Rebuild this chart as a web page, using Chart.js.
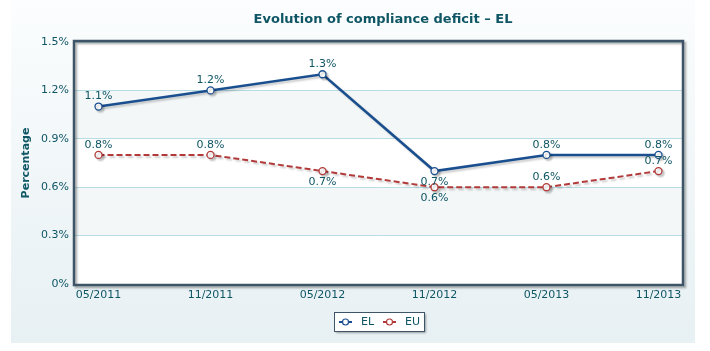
<!DOCTYPE html>
<html>
<head>
<meta charset="utf-8">
<script src="https://cdn.jsdelivr.net/npm/chart.js@4.4.0/dist/chart.umd.min.js"></script>
<style>
  html, body { margin: 0; padding: 0; background: #fff; }
  #wrap { width: 710px; height: 351px; position: relative; }
</style>
</head>
<body>
<div id="wrap"><canvas id="chart" width="710" height="351"></canvas></div>
<script>
// ===== Chart data =====
const TITLE = "Evolution of compliance deficit \u2013 EL";
const categories = ["05/2011", "11/2011", "05/2012", "11/2012", "05/2013", "11/2013"];
const elValues = [1.1, 1.2, 1.3, 0.7, 0.8, 0.8];
const euValues = [0.8, 0.8, 0.7, 0.6, 0.6, 0.7];
const yTicks = [0, 0.3, 0.6, 0.9, 1.2, 1.5];

// label side per point (1 = above, -1 = below)
const elLabelSide = [1, 1, 1, -1, 1, 1];
const euLabelSide = [1, 1, -1, -1, 1, 1];

const TEXT = "#0f5665";
const FONT = "DejaVu Sans";

function fmt(v) {
    return v === 0 ? "0%" : v.toFixed(1) + "%";
}

// background panel, bands and plot frame
const framePlugin = {
    id: 'frame',
    beforeDraw(chart) {
        const ctx = chart.ctx;
        const a = chart.chartArea;
        const g = ctx.createLinearGradient(0, 0, 0, 343);
        g.addColorStop(0, "#fbfdfe");
        g.addColorStop(1, "#e7f0f3");
        ctx.save();
        ctx.fillStyle = g;
        ctx.fillRect(11, 0, 684, 343);
        ctx.fillStyle = "#fff";
        ctx.fillRect(a.left, a.top, a.right - a.left, a.bottom - a.top);
        const y = chart.scales.y;
        ctx.fillStyle = "#f3f7f8";
        for (let i = 0; i < yTicks.length - 1; i++) {
            if (i % 2 === 1) {
                const y1 = y.getPixelForValue(yTicks[i]);
                const y2 = y.getPixelForValue(yTicks[i + 1]);
                ctx.fillRect(a.left, y2, a.right - a.left, y1 - y2);
            }
        }
        ctx.restore();
    },
    beforeDatasetsDraw(chart) {
        const ctx = chart.ctx;
        const a = chart.chartArea;
        ctx.save();
        ctx.shadowColor = "rgba(0,0,0,0.3)";
        ctx.shadowOffsetX = 2;
        ctx.shadowOffsetY = 2;
        ctx.shadowBlur = 2;
        ctx.strokeStyle = "#3d5566";
        ctx.lineWidth = 2.5;
        ctx.strokeRect(a.left - 1, a.top - 1, a.right - a.left + 2, a.bottom - a.top + 2);
        ctx.restore();
    },
    beforeDatasetDraw(chart) {
        const ctx = chart.ctx;
        ctx.save();
        ctx.shadowColor = "rgba(0,0,0,0.2)";
        ctx.shadowOffsetX = 2;
        ctx.shadowOffsetY = 2;
        ctx.shadowBlur = 2;
    },
    afterDatasetDraw(chart) {
        chart.ctx.restore();
    },
    afterDraw(chart) {
        const ctx = chart.ctx;
        ctx.save();
        // title
        ctx.fillStyle = TEXT;
        ctx.font = "bold 13px " + FONT;
        ctx.textAlign = "center";
        ctx.textBaseline = "middle";
        ctx.fillText(TITLE, 383, 20);

        // value labels
        ctx.font = "11px " + FONT;
        chart.data.datasets.forEach((ds, di) => {
            const meta = chart.getDatasetMeta(di);
            const sides = di === 0 ? elLabelSide : euLabelSide;
            meta.data.forEach((pt, i) => {
                const dy = sides[i] > 0 ? -10 : 11;
                ctx.fillText(fmt(ds.data[i].y), pt.x, pt.y + dy);
            });
        });

        // legend
        const lx = 334, ly = 312, lw = 90, lh = 19;
        ctx.shadowColor = "rgba(0,0,0,0.35)";
        ctx.shadowOffsetX = 2;
        ctx.shadowOffsetY = 2;
        ctx.shadowBlur = 2;
        ctx.fillStyle = "#fff";
        ctx.fillRect(lx, ly, lw, lh);
        ctx.shadowColor = "transparent";
        ctx.strokeStyle = "#3d5566";
        ctx.lineWidth = 1;
        ctx.strokeRect(lx + 0.5, ly + 0.5, lw, lh);
        const cy = ly + lh / 2 + 0.5;
        let x = lx + 5;
        chart.data.datasets.forEach(ds => {
            ctx.strokeStyle = ds.borderColor;
            ctx.lineWidth = 2;
            ctx.beginPath();
            ctx.moveTo(x, cy);
            ctx.lineTo(x + 13, cy);
            ctx.stroke();
            ctx.beginPath();
            ctx.arc(x + 6.5, cy, 3, 0, Math.PI * 2);
            ctx.fillStyle = "#fff";
            ctx.fill();
            ctx.lineWidth = 1.2;
            ctx.stroke();
            ctx.fillStyle = TEXT;
            ctx.font = "11px " + FONT;
            ctx.textAlign = "left";
            ctx.fillText(ds.label, x + 22, cy);
            x += 44;
        });
        ctx.restore();
    }
};

function toPoints(values) {
    return values.map((v, i) => ({ x: i, y: v }));
}

const ctx = document.getElementById('chart').getContext('2d');
new Chart(ctx, {
    type: 'line',
    data: {
        datasets: [{
            label: 'EL',
            data: toPoints(elValues),
            borderColor: '#1a4f8f',
            borderWidth: 2.5,
            pointBackgroundColor: '#fff',
            pointBorderColor: '#1a4f8f',
            pointBorderWidth: 1.3,
            pointRadius: 3.5,
            tension: 0
        }, {
            label: 'EU',
            data: toPoints(euValues),
            borderColor: '#b23a3a',
            borderWidth: 2,
            borderDash: [6, 3],
            pointBackgroundColor: '#fff',
            pointBorderColor: '#b23a3a',
            pointBorderWidth: 1.3,
            pointRadius: 3.5,
            tension: 0
        }]
    },
    options: {
        responsive: false,
        animation: false,
        layout: { padding: { left: 0, right: 28, top: 42, bottom: 47 } },
        plugins: {
            legend: { display: false },
            title: { display: false },
            tooltip: { enabled: false }
        },
        scales: {
            x: {
                type: 'linear',
                min: -0.21,
                max: 5.21,
                afterBuildTicks: axis => { axis.ticks = categories.map((c, i) => ({ value: i })); },
                afterFit: axis => { axis.height = 20; },
                grid: { display: false, drawTicks: false },
                border: { display: false },
                ticks: {
                    color: TEXT,
                    font: { family: FONT, size: 11 },
                    padding: 5,
                    maxRotation: 0,
                    autoSkip: false,
                    callback: v => categories[v]
                }
            },
            y: {
                min: 0,
                max: 1.5,
                afterBuildTicks: axis => { axis.ticks = yTicks.map(v => ({ value: v })); },
                afterFit: axis => { axis.width = 75; },
                grid: { color: '#b8dce4', drawTicks: false },
                border: { display: false },
                ticks: {
                    color: TEXT,
                    font: { family: FONT, size: 11 },
                    padding: 6,
                    callback: v => fmt(v)
                },
                title: {
                    display: true,
                    text: 'Percentage',
                    color: TEXT,
                    font: { family: FONT, size: 11, weight: 'bold' },
                    padding: { top: 20, bottom: 0 }
                }
            }
        }
    },
    plugins: [framePlugin]
});
</script>
</body>
</html>
